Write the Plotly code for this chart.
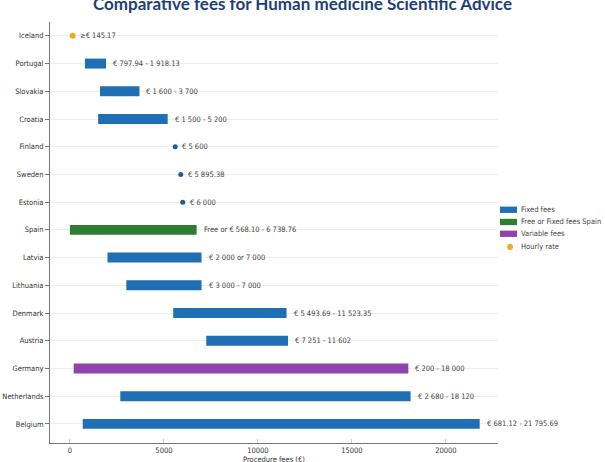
import plotly.graph_objects as go

# data, top to bottom as drawn
countries = ["Iceland", "Portugal", "Slovakia", "Croatia", "Finland", "Sweden", "Estonia",
             "Spain", "Latvia", "Lithuania", "Denmark", "Austria", "Germany", "Netherlands", "Belgium"]
fee_low = [145.17, 797.94, 1600, 1500, 5600, 5895.38, 6000,
           0, 2000, 3000, 5493.69, 7251, 200, 2680, 681.12]
fee_high = [145.17, 1918.13, 3700, 5200, 5600, 5895.38, 6000,
            6738.76, 7000, 7000, 11523.35, 11602, 18000, 18120, 21795.69]
fee_type = ["Hourly rate", "Fixed fees", "Fixed fees", "Fixed fees", "Fixed fees", "Fixed fees", "Fixed fees",
            "Free or Fixed fees Spain", "Fixed fees", "Fixed fees", "Fixed fees", "Fixed fees",
            "Variable fees", "Fixed fees", "Fixed fees"]
fee_labels = ["≥€ 145.17", "€ 797.94 - 1 918.13", "€ 1 600 - 3 700", "€ 1 500 - 5 200", "€ 5 600",
              "€ 5 895.38", "€ 6 000", "Free or € 568.10 - 6 738.76", "€ 2 000 or 7 000",
              "€ 3 000 - 7 000", "€ 5 493.69 - 11 523.35", "€ 7 251 - 11 602", "€ 200 - 18 000",
              "€ 2 680 - 18 120", "€ 681.12 - 21 795.69"]
legend_names = ["Fixed fees", "Free or Fixed fees Spain", "Variable fees", "Hourly rate"]

colors = {
    "Fixed fees": "#1f6fb5",
    "Free or Fixed fees Spain": "#2e7d32",
    "Variable fees": "#8e44ad",
    "Hourly rate": "#f2a91c",
}
FONT = "Liberation Sans Narrow, DejaVu Sans Condensed, Arial Narrow, sans-serif"

fig = go.Figure()

# range bars, one trace per fee type
for kind in ["Fixed fees", "Free or Fixed fees Spain", "Variable fees"]:
    idx = [i for i, t in enumerate(fee_type) if t == kind and fee_high[i] > fee_low[i]]
    fig.add_trace(go.Bar(
        y=[countries[i] for i in idx],
        x=[fee_high[i] - fee_low[i] for i in idx],
        base=[fee_low[i] for i in idx],
        orientation="h",
        width=0.36,
        marker=dict(color=colors[kind], line=dict(width=0)),
        name=kind,
    ))

# single-value fees drawn as dots
dots = [i for i in range(len(countries)) if fee_high[i] == fee_low[i] and fee_type[i] == "Fixed fees"]
fig.add_trace(go.Scatter(
    y=[countries[i] for i in dots], x=[fee_low[i] for i in dots],
    mode="markers", marker=dict(color="#1f5c99", size=5),
    cliponaxis=False,
))
hourly = [i for i, t in enumerate(fee_type) if t == "Hourly rate"]
fig.add_trace(go.Scatter(
    y=[countries[i] for i in hourly], x=[fee_low[i] for i in hourly],
    mode="markers", marker=dict(color=colors["Hourly rate"], size=6),
    cliponaxis=False,
))

for c, hi, lab in zip(countries, fee_high, fee_labels):
    fig.add_annotation(x=hi, y=c, text=lab, showarrow=False, xanchor="left", xshift=5,
                       font=dict(family=FONT, size=7.5, color="#444"))

# compact legend at the right, built by hand so the rows sit tight
leg_y = [0.554, 0.525, 0.497, 0.466]
for name, ly in zip(legend_names, leg_y):
    if name == "Hourly rate":
        fig.add_shape(type="circle", xref="paper", yref="paper",
                      x0=1.0205, x1=1.0335, y0=ly - 0.0075, y1=ly + 0.0075,
                      fillcolor=colors[name], line=dict(width=0))
    else:
        fig.add_shape(type="rect", xref="paper", yref="paper",
                      x0=1.0045, x1=1.0425, y0=ly - 0.0075, y1=ly + 0.0075,
                      fillcolor=colors[name], line=dict(width=0))
    fig.add_annotation(x=1.046, y=ly, xref="paper", yref="paper", text=name, showarrow=False,
                       xanchor="left", yanchor="middle", font=dict(family=FONT, size=7.5, color="#444"))

# x axis title placed by hand, just under the tick labels
fig.add_annotation(x=0.5, y=-0.039, xref="paper", yref="paper", text="Procedure fees (€)",
                   showarrow=False, xanchor="center", yanchor="middle",
                   font=dict(family=FONT, size=7.5, color="#333"))

fig.update_layout(
    width=605, height=462,
    margin=dict(l=50, r=107, t=22, b=19),
    paper_bgcolor="white", plot_bgcolor="white",
    barmode="overlay", showlegend=False,
    font=dict(family=FONT, size=7.5, color="#333"),
    title=dict(text="<b>Comparative fees for Human medicine Scientific Advice</b>",
               x=0.5, xanchor="center", y=1 - 4 / 462, yanchor="middle", yref="container",
               font=dict(family="Lato, Open Sans, sans-serif", size=17, color="#1d3f7a")),
    xaxis=dict(range=[-1060, 22770], tickvals=[0, 5000, 10000, 15000, 20000], tickformat="d",
               showgrid=False, zeroline=False, showline=True, linecolor="#777", linewidth=1,
               ticks="inside", ticklen=4, tickcolor="#ccc", automargin=False),
    yaxis=dict(categoryorder="array", categoryarray=countries[::-1], range=[-0.69, 14.5],
               showgrid=True, gridcolor="#eeeeee", gridwidth=1, showline=True, linecolor="#777",
               linewidth=1, ticks="outside", ticklen=4, tickcolor="#777", automargin=False),
)

fig.write_html("out.html", config={"displayModeBar": False},
               post_script="document.body.style.margin='0';")
